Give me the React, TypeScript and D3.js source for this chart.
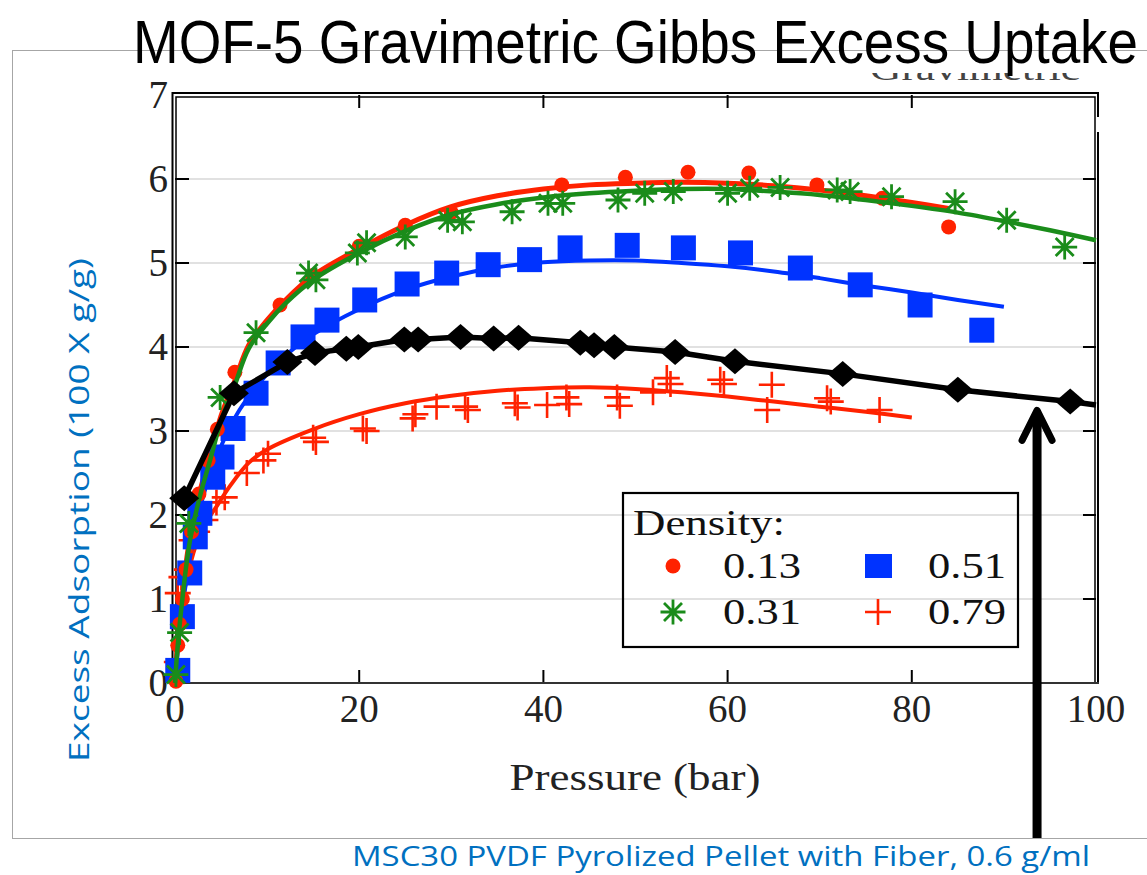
import React from "react";
import * as d3 from "d3";

// ---------- data ----------
const titleText = "MOF-5 Gravimetric Gibbs Excess Uptake";
const xLabel = "Pressure (bar)";
const yLabel = "Excess Adsorption (100 X g/g)";
const captionText = "MSC30 PVDF Pyrolized Pellet with Fiber, 0.6 g/ml";
const legendTitle = "Density:";
const xTicks = [0, 20, 40, 60, 80, 100];
const yTicks = [0, 1, 2, 3, 4, 5, 6, 7];
const gridValues = [1, 2, 3, 4, 5, 6];
const innerXTicks = [20, 40, 60, 80];

// density 0.13 (red circles) measured points
const pts013: [number, number][] = [
  [0.1, 0.02], [0.3, 0.45], [0.5, 0.7], [0.8, 1.0], [1.2, 1.35], [1.8, 1.8], [2.6, 2.25],
  [3.6, 2.65], [4.6, 3.02], [6.5, 3.7], [11.4, 4.5], [15, 4.85], [20, 5.2], [25, 5.45],
  [30, 5.6], [42, 5.93], [48.9, 6.02], [55.7, 6.08], [62.3, 6.07], [69.7, 5.93], [76.8, 5.77], [84, 5.43],
];
// fitted curve for 0.13
const fit013: [number, number][] = [
  [0, 0], [0.3, 0.5], [0.9, 1.15], [1.6, 1.72], [2.7, 2.28], [3.8, 2.7], [5, 3.18], [6.5, 3.6],
  [8, 4.02], [10, 4.32], [12, 4.56], [15, 4.85], [20, 5.17], [25, 5.45], [30, 5.67], [35, 5.8],
  [40, 5.88], [45, 5.93], [50, 5.95], [55, 5.96], [60, 5.95], [65, 5.92], [70, 5.87], [75, 5.8],
  [80, 5.72], [84, 5.65],
];
// density 0.31 (green asterisks)
const pts031: [number, number][] = [
  [0.1, 0.1], [0.5, 0.6], [1.5, 1.9], [4.9, 3.4], [8.8, 4.17], [14.5, 4.88], [15.3, 4.8],
  [19.8, 5.12], [20.8, 5.24], [25, 5.31], [29.6, 5.51], [31.2, 5.49], [36.6, 5.61], [40.5, 5.71],
  [42.1, 5.71], [48.1, 5.75], [51, 5.83], [54.1, 5.85], [60, 5.83], [62.4, 5.89], [65.7, 5.9],
  [71.9, 5.87], [73.3, 5.85], [77.8, 5.79], [84.7, 5.73], [90.3, 5.51], [96.6, 5.19],
];
const fit031: [number, number][] = [
  [0, 0], [0.3, 0.45], [0.9, 1.1], [1.6, 1.68], [2.7, 2.22], [3.8, 2.65], [5, 3.12], [6.5, 3.55],
  [8, 3.98], [10, 4.28], [12, 4.52], [15, 4.8], [20, 5.12], [25, 5.38], [30, 5.58], [35, 5.7],
  [40, 5.78], [45, 5.83], [50, 5.86], [55, 5.88], [60, 5.88], [65, 5.85], [70, 5.81], [75, 5.75],
  [80, 5.68], [85, 5.6], [90, 5.5], [95, 5.39], [100, 5.27],
];
// density 0.51 (blue squares)
const pts051: [number, number][] = [
  [0.3, 0.15], [0.8, 0.79], [1.6, 1.31], [2.2, 1.74], [2.7, 2.02], [4.1, 2.45], [5.1, 2.69],
  [6.3, 3.03], [8.8, 3.45], [11.2, 3.81], [13.9, 4.12], [16.5, 4.32], [20.6, 4.56], [25.2, 4.75],
  [29.5, 4.88], [34, 4.98], [38.5, 5.04], [42.9, 5.18], [49.1, 5.21], [55.2, 5.18], [61.4, 5.12],
  [67.9, 4.94], [74.4, 4.74], [80.9, 4.5], [87.6, 4.2],
];
const fit051: [number, number][] = [
  [0, 0], [0.5, 0.6], [1, 1.05], [2, 1.72], [3, 2.2], [4, 2.55], [5, 2.82], [7, 3.25], [10, 3.68],
  [12, 3.9], [15, 4.15], [20, 4.45], [25, 4.68], [30, 4.84], [35, 4.95], [40, 5.01], [45, 5.03],
  [50, 5.03], [55, 5.0], [60, 4.96], [65, 4.9], [70, 4.82], [75, 4.73], [80, 4.65], [85, 4.56], [90, 4.48],
];
// density 0.79 (red pluses)
const pts079: [number, number][] = [
  [0.2, 0.25], [0.3, 1.07], [0.7, 1.26], [1.3, 1.35], [1.8, 1.7], [2.4, 1.8], [3.3, 1.94],
  [4.5, 2.15], [5.4, 2.21], [7.8, 2.5], [9.6, 2.65], [10.1, 2.73], [15, 2.92], [15.3, 2.87],
  [20.4, 3.03], [20.8, 3.0], [25.8, 3.15], [26.1, 3.2], [28.4, 3.29], [31.5, 3.29], [31.8, 3.25],
  [36.9, 3.33], [37.2, 3.28], [40.4, 3.31], [42.5, 3.4], [42.8, 3.32], [48, 3.4], [48.3, 3.3],
  [51.9, 3.46], [53.4, 3.63], [53.8, 3.56], [59.2, 3.61], [59.6, 3.56], [64.8, 3.55], [64.3, 3.25],
  [70.8, 3.39], [71.2, 3.35], [76.5, 3.25],
];
const fit079: [number, number][] = [
  [0, 0], [0.3, 0.55], [0.7, 0.95], [1, 1.1], [2, 1.55], [3, 1.85], [4.5, 2.1], [6, 2.35],
  [8, 2.62], [10, 2.78], [15, 3.02], [20, 3.2], [25, 3.33], [30, 3.42], [35, 3.48], [40, 3.51],
  [45, 3.52], [50, 3.5], [55, 3.46], [60, 3.41], [65, 3.35], [70, 3.29], [75, 3.23], [80, 3.16],
];
// MSC30 pellet (black diamonds, connected)
const ptsMSC: [number, number][] = [
  [1, 2.2], [6.4, 3.45], [12.2, 3.82], [15.2, 3.93], [18.6, 3.98], [19.9, 4.0], [24.9, 4.09],
  [26.4, 4.09], [31, 4.12], [34.6, 4.1], [37.3, 4.11], [44, 4.05], [45.5, 4.02], [47.7, 4.0],
  [54.3, 3.94], [60.8, 3.83], [72.5, 3.68], [85, 3.49], [97.2, 3.35],
];
const mscLineEnd: [number, number] = [100, 3.31];
const arrowTarget: [number, number] = [93.6, 3.15];

const legendItems = [
  { label: "0.13", shape: "circle", color: "#ff2200" },
  { label: "0.31", shape: "asterisk", color: "#1a8c1a" },
  { label: "0.51", shape: "square", color: "#0033ff" },
  { label: "0.79", shape: "plus", color: "#ff2200" },
];

// ---------- layout ----------
const W = 1147, H = 875;
const x = d3.scaleLinear().domain([0, 100]).range([175, 1096]);
const y = d3.scaleLinear().domain([0, 7]).range([683, 95]);
const RED = "#ff2200", GREEN = "#1a8c1a", BLUE = "#0033ff", CAPBLUE = "#0070c0";
const serif = "'Liberation Serif', 'DejaVu Serif', serif";

const smooth = d3.line<[number, number]>().x(d => x(d[0])).y(d => y(d[1])).curve(d3.curveCatmullRom.alpha(0.5));
const straight = d3.line<[number, number]>().x(d => x(d[0])).y(d => y(d[1]));

function Marker({ shape, cx, cy, color }: { shape: string; cx: number; cy: number; color: string }) {
  if (shape === "circle") return <circle cx={cx} cy={cy} r={7.5} fill={color} />;
  if (shape === "square") return <rect x={cx - 12.5} y={cy - 12.5} width={25} height={25} fill={color} />;
  if (shape === "diamond")
    return <path d={`M${cx - 15},${cy}L${cx},${cy - 13}L${cx + 15},${cy}L${cx},${cy + 13}Z`} fill="#000" />;
  if (shape === "plus") {
    const r = 13;
    return <path d={`M${cx - r},${cy}H${cx + r}M${cx},${cy - r}V${cy + r}`} stroke={color} strokeWidth={2.6} fill="none" />;
  }
  // asterisk
  const r = 12.5, d = r * 0.72;
  return (
    <path
      d={`M${cx - r},${cy}H${cx + r}M${cx},${cy - r}V${cy + r}M${cx - d},${cy - d}L${cx + d},${cy + d}M${cx - d},${cy + d}L${cx + d},${cy - d}`}
      stroke={color} strokeWidth={2.8} fill="none" />
  );
}

export default function App() {
  const fr = { l: x(0), r: x(100), t: y(7), b: y(0) };
  return (
    <svg width={W} height={H} style={{ position: "absolute", left: 0, top: 0, background: "#fff" }}>
      <defs>
        <clipPath id="gravClip"><rect x={850} y={73} width={260} height={20} /></clipPath>
      </defs>
      {/* outer light frame */}
      <rect x={12.5} y={50.5} width={1200} height={788} fill="none" stroke="#a6a6a6" strokeWidth={1} />
      {/* partially hidden subtitle */}
      <text x={870} y={80} fontFamily={serif} fontSize={32} fill="#444" textLength={210} lengthAdjust="spacingAndGlyphs" clipPath="url(#gravClip)">Gravimetric</text>

      {/* title */}
      <text x={133} y={63} fontFamily="'Liberation Sans', Arial, sans-serif" fontSize={62} fill="#000" textLength={1005} lengthAdjust="spacingAndGlyphs">{titleText}</text>

      {/* grid */}
      {gridValues.map(v => (
        <line key={"g" + v} x1={fr.l} x2={fr.r} y1={y(v)} y2={y(v)} stroke="#c4c4c4" strokeWidth={1.2} />
      ))}

      {/* ticks */}
      {gridValues.map(v => (
        <g key={"yt" + v}>
          <line x1={fr.l} x2={fr.l + 14} y1={y(v)} y2={y(v)} stroke="#000" strokeWidth={2} />
          <line x1={fr.r - 13} x2={fr.r} y1={y(v)} y2={y(v)} stroke="#000" strokeWidth={2} />
        </g>
      ))}
      {innerXTicks.map(v => (
        <g key={"xt" + v}>
          <line x1={x(v)} x2={x(v)} y1={fr.b} y2={fr.b - 13} stroke="#000" strokeWidth={2} />
          <line x1={x(v)} x2={x(v)} y1={fr.t} y2={fr.t + 13} stroke="#000" strokeWidth={2} />
        </g>
      ))}

      {/* frame (double lines) */}
      <path d={`M${fr.l - 2.5},${fr.b}V${fr.t - 2}H${fr.r + 2}V${fr.t + 22}M${fr.r + 2},${fr.t + 37}V${fr.b}`} fill="none" stroke="#000" strokeWidth={2} />
      <path d={`M${fr.l + 1},${fr.b}V${fr.t + 2}H${fr.r - 1}V${fr.b}`} fill="none" stroke="#000" strokeWidth={1.5} />
      <line x1={fr.l - 3.5} x2={fr.r + 3} y1={fr.b} y2={fr.b} stroke="#333" strokeWidth={2.2} />

      {/* tick labels */}
      {yTicks.map(v => (
        <text key={"yl" + v} x={168} y={y(v) + 13} textAnchor="end" fontFamily={serif} fontSize={39} fill="#222">{v}</text>
      ))}
      {xTicks.map(v => (
        <text key={"xl" + v} x={x(v)} y={722} textAnchor="middle" fontFamily={serif} fontSize={39} fill="#222">{v}</text>
      ))}
      <text x={635} y={790} textAnchor="middle" fontFamily={serif} fontSize={38} fill="#222" textLength={251} lengthAdjust="spacingAndGlyphs">{xLabel}</text>

      {/* fitted curves */}
      <path d={smooth(fit079) || ""} fill="none" stroke={RED} strokeWidth={4} />
      <path d={smooth(fit051) || ""} fill="none" stroke={BLUE} strokeWidth={4} />
      <path d={smooth(fit013) || ""} fill="none" stroke={RED} strokeWidth={5} />

      {/* markers */}
      {pts079.map((p, i) => <Marker key={"p79" + i} shape="plus" cx={x(p[0])} cy={y(p[1])} color={RED} />)}
      {pts051.map((p, i) => <Marker key={"p51" + i} shape="square" cx={x(p[0])} cy={y(p[1])} color={BLUE} />)}
      {pts013.map((p, i) => <Marker key={"p13" + i} shape="circle" cx={x(p[0])} cy={y(p[1])} color={RED} />)}
      <path d={smooth(fit031) || ""} fill="none" stroke={GREEN} strokeWidth={4.5} />
      {pts031.map((p, i) => <Marker key={"p31" + i} shape="asterisk" cx={x(p[0])} cy={y(p[1])} color={GREEN} />)}

      {/* MSC30 series */}
      <path d={straight([...ptsMSC, mscLineEnd]) || ""} fill="none" stroke="#000" strokeWidth={5.5} strokeLinejoin="round" />
      {ptsMSC.map((p, i) => <Marker key={"pm" + i} shape="diamond" cx={x(p[0])} cy={y(p[1])} color="#000" />)}

      {/* legend */}
      <rect x={623} y={493} width={395} height={154} fill="none" stroke="#000" strokeWidth={2.2} />
      <text x={633} y={535} fontFamily={serif} fontSize={36} fill="#111" textLength={152} lengthAdjust="spacingAndGlyphs">{legendTitle}</text>
      {legendItems.map((it, i) => {
        const col = Math.floor(i / 2), row = i % 2;
        const mx = 673 + col * 205, my = 566 + row * 46;
        return (
          <g key={"lg" + i}>
            {it.shape === "square"
              ? <rect x={mx - 13} y={my - 12} width={27} height={24} fill={it.color} />
              : <Marker shape={it.shape} cx={mx} cy={my} color={it.color} />}
            <text x={mx + 50} y={my + 12} fontFamily={serif} fontSize={36} fill="#111" textLength={78} lengthAdjust="spacingAndGlyphs">{it.label}</text>
          </g>
        );
      })}

      {/* y axis label */}
      <text transform="translate(89,510) rotate(-90)" textAnchor="middle" fontFamily="'Open Sans', 'Noto Sans', sans-serif" fontSize={27} fill={CAPBLUE} textLength={504} lengthAdjust="spacingAndGlyphs">{yLabel}</text>

      {/* arrow */}
      <line x1={x(arrowTarget[0])} x2={x(arrowTarget[0])} y1={838} y2={y(arrowTarget[1]) - 4} stroke="#000" strokeWidth={9} />
      <path d={`M${x(arrowTarget[0]) - 15},${y(arrowTarget[1]) + 22}L${x(arrowTarget[0])},${y(arrowTarget[1]) - 8}L${x(arrowTarget[0]) + 15},${y(arrowTarget[1]) + 22}`} fill="none" stroke="#000" strokeWidth={7} strokeLinecap="round" strokeLinejoin="round" />

      {/* caption */}
      <text x={352} y={866} fontFamily="'Open Sans', 'Noto Sans', sans-serif" fontSize={28} fill={CAPBLUE} textLength={738} lengthAdjust="spacingAndGlyphs">{captionText}</text>
    </svg>
  );
}
